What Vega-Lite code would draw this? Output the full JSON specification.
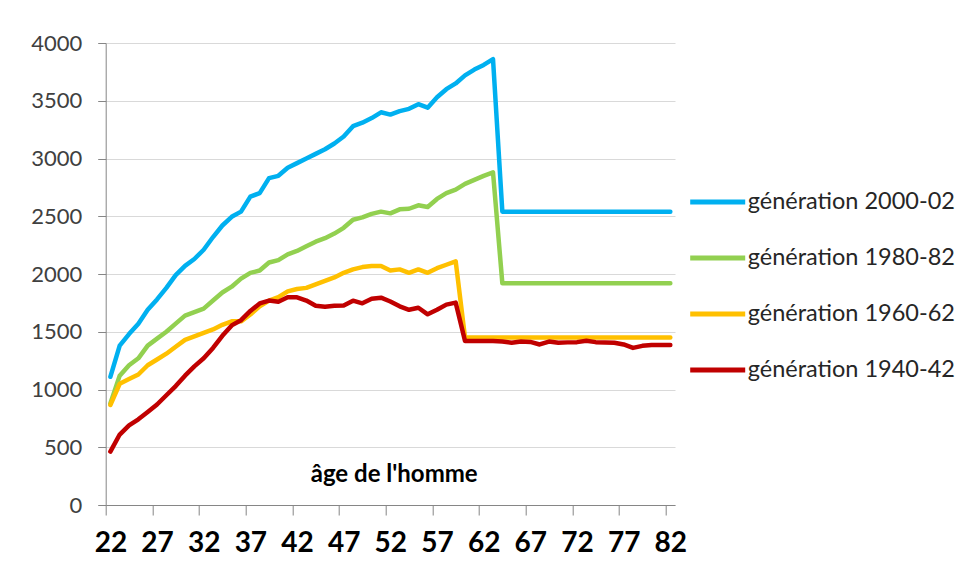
{
  "$schema": "https://vega.github.io/schema/vega-lite/v6.json",
  "autosize": {"type": "none"},
  "padding": {"left": 105.7, "top": 43, "right": 285, "bottom": 76},
  "width": 569.3,
  "height": 462,
  "background": "white",
  "config": {"font": "Lato", "view": {"stroke": null}},
  "data": {"values": [
    {"age": 22, "génération 2000-02": 1110, "génération 1980-82": 880, "génération 1960-62": 866, "génération 1940-42": 462},
    {"age": 23, "génération 2000-02": 1380, "génération 1980-82": 1120, "génération 1960-62": 1050, "génération 1940-42": 610},
    {"age": 24, "génération 2000-02": 1480, "génération 1980-82": 1210, "génération 1960-62": 1090, "génération 1940-42": 690},
    {"age": 25, "génération 2000-02": 1570, "génération 1980-82": 1270, "génération 1960-62": 1130, "génération 1940-42": 742},
    {"age": 26, "génération 2000-02": 1690, "génération 1980-82": 1380, "génération 1960-62": 1210, "génération 1940-42": 805},
    {"age": 27, "génération 2000-02": 1780, "génération 1980-82": 1440, "génération 1960-62": 1260, "génération 1940-42": 870},
    {"age": 28, "génération 2000-02": 1880, "génération 1980-82": 1500, "génération 1960-62": 1310, "génération 1940-42": 950},
    {"age": 29, "génération 2000-02": 1990, "génération 1980-82": 1570, "génération 1960-62": 1370, "génération 1940-42": 1030},
    {"age": 30, "génération 2000-02": 2070, "génération 1980-82": 1640, "génération 1960-62": 1430, "génération 1940-42": 1120},
    {"age": 31, "génération 2000-02": 2130, "génération 1980-82": 1670, "génération 1960-62": 1460, "génération 1940-42": 1200},
    {"age": 32, "génération 2000-02": 2210, "génération 1980-82": 1700, "génération 1960-62": 1490, "génération 1940-42": 1270},
    {"age": 33, "génération 2000-02": 2320, "génération 1980-82": 1770, "génération 1960-62": 1520, "génération 1940-42": 1360},
    {"age": 34, "génération 2000-02": 2420, "génération 1980-82": 1840, "génération 1960-62": 1560, "génération 1940-42": 1465},
    {"age": 35, "génération 2000-02": 2495, "génération 1980-82": 1890, "génération 1960-62": 1590, "génération 1940-42": 1555},
    {"age": 36, "génération 2000-02": 2540, "génération 1980-82": 1960, "génération 1960-62": 1590, "génération 1940-42": 1600},
    {"age": 37, "génération 2000-02": 2670, "génération 1980-82": 2010, "génération 1960-62": 1650, "génération 1940-42": 1680},
    {"age": 38, "génération 2000-02": 2700, "génération 1980-82": 2030, "génération 1960-62": 1720, "génération 1940-42": 1745},
    {"age": 39, "génération 2000-02": 2830, "génération 1980-82": 2100, "génération 1960-62": 1770, "génération 1940-42": 1770},
    {"age": 40, "génération 2000-02": 2850, "génération 1980-82": 2120, "génération 1960-62": 1800, "génération 1940-42": 1760},
    {"age": 41, "génération 2000-02": 2920, "génération 1980-82": 2170, "génération 1960-62": 1850, "génération 1940-42": 1798},
    {"age": 42, "génération 2000-02": 2960, "génération 1980-82": 2200, "génération 1960-62": 1870, "génération 1940-42": 1798},
    {"age": 43, "génération 2000-02": 3000, "génération 1980-82": 2240, "génération 1960-62": 1880, "génération 1940-42": 1770},
    {"age": 44, "génération 2000-02": 3040, "génération 1980-82": 2280, "génération 1960-62": 1910, "génération 1940-42": 1725},
    {"age": 45, "génération 2000-02": 3080, "génération 1980-82": 2310, "génération 1960-62": 1940, "génération 1940-42": 1717},
    {"age": 46, "génération 2000-02": 3130, "génération 1980-82": 2350, "génération 1960-62": 1970, "génération 1940-42": 1726},
    {"age": 47, "génération 2000-02": 3190, "génération 1980-82": 2400, "génération 1960-62": 2010, "génération 1940-42": 1728},
    {"age": 48, "génération 2000-02": 3280, "génération 1980-82": 2470, "génération 1960-62": 2040, "génération 1940-42": 1769},
    {"age": 49, "génération 2000-02": 3310, "génération 1980-82": 2490, "génération 1960-62": 2060, "génération 1940-42": 1746},
    {"age": 50, "génération 2000-02": 3350, "génération 1980-82": 2520, "génération 1960-62": 2070, "génération 1940-42": 1785},
    {"age": 51, "génération 2000-02": 3400, "génération 1980-82": 2540, "génération 1960-62": 2070, "génération 1940-42": 1795},
    {"age": 52, "génération 2000-02": 3380, "génération 1980-82": 2525, "génération 1960-62": 2030, "génération 1940-42": 1762},
    {"age": 53, "génération 2000-02": 3410, "génération 1980-82": 2560, "génération 1960-62": 2040, "génération 1940-42": 1720},
    {"age": 54, "génération 2000-02": 3430, "génération 1980-82": 2565, "génération 1960-62": 2010, "génération 1940-42": 1690},
    {"age": 55, "génération 2000-02": 3470, "génération 1980-82": 2595, "génération 1960-62": 2040, "génération 1940-42": 1708},
    {"age": 56, "génération 2000-02": 3440, "génération 1980-82": 2580, "génération 1960-62": 2010, "génération 1940-42": 1651},
    {"age": 57, "génération 2000-02": 3530, "génération 1980-82": 2650, "génération 1960-62": 2050, "génération 1940-42": 1690},
    {"age": 58, "génération 2000-02": 3600, "génération 1980-82": 2700, "génération 1960-62": 2080, "génération 1940-42": 1735},
    {"age": 59, "génération 2000-02": 3650, "génération 1980-82": 2730, "génération 1960-62": 2110, "génération 1940-42": 1752},
    {"age": 60, "génération 2000-02": 3720, "génération 1980-82": 2780, "génération 1960-62": 1450, "génération 1940-42": 1420},
    {"age": 61, "génération 2000-02": 3770, "génération 1980-82": 2815, "génération 1960-62": 1450, "génération 1940-42": 1420},
    {"age": 62, "génération 2000-02": 3810, "génération 1980-82": 2850, "génération 1960-62": 1450, "génération 1940-42": 1420},
    {"age": 63, "génération 2000-02": 3860, "génération 1980-82": 2880, "génération 1960-62": 1450, "génération 1940-42": 1420},
    {"age": 64, "génération 2000-02": 2540, "génération 1980-82": 1920, "génération 1960-62": 1450, "génération 1940-42": 1415},
    {"age": 65, "génération 2000-02": 2540, "génération 1980-82": 1920, "génération 1960-62": 1450, "génération 1940-42": 1405},
    {"age": 66, "génération 2000-02": 2540, "génération 1980-82": 1920, "génération 1960-62": 1450, "génération 1940-42": 1415},
    {"age": 67, "génération 2000-02": 2540, "génération 1980-82": 1920, "génération 1960-62": 1450, "génération 1940-42": 1412},
    {"age": 68, "génération 2000-02": 2540, "génération 1980-82": 1920, "génération 1960-62": 1450, "génération 1940-42": 1390},
    {"age": 69, "génération 2000-02": 2540, "génération 1980-82": 1920, "génération 1960-62": 1450, "génération 1940-42": 1415},
    {"age": 70, "génération 2000-02": 2540, "génération 1980-82": 1920, "génération 1960-62": 1450, "génération 1940-42": 1405},
    {"age": 71, "génération 2000-02": 2540, "génération 1980-82": 1920, "génération 1960-62": 1450, "génération 1940-42": 1408},
    {"age": 72, "génération 2000-02": 2540, "génération 1980-82": 1920, "génération 1960-62": 1450, "génération 1940-42": 1410},
    {"age": 73, "génération 2000-02": 2540, "génération 1980-82": 1920, "génération 1960-62": 1450, "génération 1940-42": 1422},
    {"age": 74, "génération 2000-02": 2540, "génération 1980-82": 1920, "génération 1960-62": 1450, "génération 1940-42": 1410},
    {"age": 75, "génération 2000-02": 2540, "génération 1980-82": 1920, "génération 1960-62": 1450, "génération 1940-42": 1408},
    {"age": 76, "génération 2000-02": 2540, "génération 1980-82": 1920, "génération 1960-62": 1450, "génération 1940-42": 1405},
    {"age": 77, "génération 2000-02": 2540, "génération 1980-82": 1920, "génération 1960-62": 1450, "génération 1940-42": 1390},
    {"age": 78, "génération 2000-02": 2540, "génération 1980-82": 1920, "génération 1960-62": 1450, "génération 1940-42": 1360},
    {"age": 79, "génération 2000-02": 2540, "génération 1980-82": 1920, "génération 1960-62": 1450, "génération 1940-42": 1378},
    {"age": 80, "génération 2000-02": 2540, "génération 1980-82": 1920, "génération 1960-62": 1450, "génération 1940-42": 1385},
    {"age": 81, "génération 2000-02": 2540, "génération 1980-82": 1920, "génération 1960-62": 1450, "génération 1940-42": 1385},
    {"age": 82, "génération 2000-02": 2540, "génération 1980-82": 1920, "génération 1960-62": 1450, "génération 1940-42": 1385}
  ]},
  "transform": [
    {"fold": ["génération 2000-02", "génération 1980-82", "génération 1960-62", "génération 1940-42"], "as": ["gen", "value"]}
  ],
  "mark": {"type": "line", "strokeWidth": 4.5, "strokeJoin": "round", "strokeCap": "round"},
  "encoding": {
    "x": {
      "field": "age", "type": "quantitative",
      "scale": {"domain": [21.5, 82.5], "nice": false, "zero": false},
      "axis": {
        "values": [21.5, 26.5, 31.5, 36.5, 41.5, 46.5, 51.5, 56.5, 61.5, 66.5, 71.5, 76.5, 81.5],
        "labelExpr": "'' + (datum.value + 0.5)",
        "labelOffset": 4.67,
        "grid": false,
        "tickSize": 10,
        "tickColor": "#868686",
        "domainColor": "#868686",
        "labelFont": "Lato",
        "labelFontWeight": "bold",
        "labelFontSize": 28,
        "labelColor": "#000000",
        "labelPadding": 14,
        "labelFlush": false,
        "labelOverlap": false,
        "labelBound": false,
        "title": "âge de l'homme",
        "titleFont": "Lato",
        "titleFontSize": 24,
        "titleFontWeight": "bold",
        "titleColor": "#000000",
        "titleBaseline": "alphabetic",
        "titleY": -24,
        "titleX": 288
      }
    },
    "y": {
      "field": "value", "type": "quantitative",
      "scale": {"domain": [0, 4000], "nice": false},
      "axis": {
        "values": [0, 500, 1000, 1500, 2000, 2500, 3000, 3500, 4000],
        "format": "d",
        "tickSize": 8,
        "tickColor": "#868686",
        "domainColor": "#868686",
        "gridColor": "#D9D9D9",
        "labelFont": "Lato",
        "labelFontSize": 22,
        "labelColor": "#404040",
        "labelPadding": 16,
        "title": null
      }
    },
    "color": {
      "field": "gen", "type": "nominal",
      "scale": {
        "domain": ["génération 2000-02", "génération 1980-82", "génération 1960-62", "génération 1940-42"],
        "range": ["#00B0F0", "#92D050", "#FFC000", "#C00000"]
      },
      "legend": {
        "orient": "none",
        "legendX": 582,
        "legendY": 129,
        "title": null,
        "symbolType": "stroke",
        "symbolSize": 3025,
        "symbolStrokeWidth": 5,
        "labelFont": "Lato",
        "labelFontSize": 23.5,
        "labelColor": "#262626",
        "labelOffset": 0,
        "rowPadding": 14,
        "padding": 0,
        "labelLimit": 400
      }
    }
  }
}
